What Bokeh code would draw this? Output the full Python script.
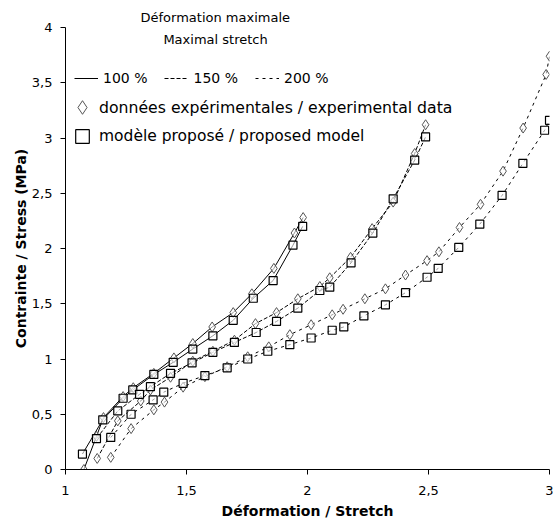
from bokeh.plotting import figure
from bokeh.models import Label, Legend, LegendItem, FixedTicker, CustomJSTickFormatter, Range1d, Title
from bokeh.embed import file_html
from bokeh.resources import INLINE

# ---- data ----
exp100_x = [1.076, 1.128, 1.157, 1.238, 1.28, 1.365, 1.448, 1.526, 1.606, 1.693, 1.77, 1.861, 1.946, 1.982]
exp100_y = [0.0, 0.30, 0.47, 0.66, 0.74, 0.87, 1.01, 1.14, 1.29, 1.42, 1.59, 1.82, 2.14, 2.28]
mod100_x = [1.07, 1.154, 1.238, 1.278, 1.365, 1.445, 1.526, 1.609, 1.693, 1.776, 1.858, 1.94, 1.98]
mod100_y = [0.14, 0.45, 0.645, 0.72, 0.86, 0.97, 1.09, 1.21, 1.35, 1.55, 1.71, 2.03, 2.20]

exp150_x = [1.131, 1.216, 1.311, 1.351, 1.434, 1.526, 1.609, 1.698, 1.785, 1.872, 1.96, 2.051, 2.092, 2.178, 2.267, 2.354, 2.443, 2.488]
exp150_y = [0.10, 0.44, 0.62, 0.72, 0.835, 0.98, 1.07, 1.17, 1.32, 1.42, 1.545, 1.656, 1.735, 1.92, 2.18, 2.42, 2.86, 3.12]
mod150_x = [1.128, 1.216, 1.306, 1.351, 1.434, 1.523, 1.609, 1.698, 1.788, 1.872, 1.96, 2.051, 2.092, 2.18, 2.27, 2.354, 2.443, 2.488]
mod150_y = [0.28, 0.53, 0.68, 0.75, 0.87, 0.965, 1.06, 1.15, 1.24, 1.34, 1.46, 1.62, 1.65, 1.87, 2.14, 2.45, 2.80, 3.01]

exp200_x = [1.187, 1.271, 1.365, 1.409, 1.486, 1.576, 1.668, 1.753, 1.84, 1.927, 2.015, 2.102, 2.147, 2.237, 2.322, 2.405, 2.494, 2.543, 2.628, 2.715, 2.808, 2.891, 2.986, 3.0]
exp200_y = [0.11, 0.37, 0.54, 0.61, 0.745, 0.84, 0.93, 1.02, 1.11, 1.22, 1.31, 1.40, 1.45, 1.545, 1.635, 1.76, 1.89, 1.97, 2.19, 2.40, 2.70, 3.09, 3.575, 3.74]
mod200_x = [1.187, 1.271, 1.362, 1.406, 1.486, 1.576, 1.668, 1.753, 1.836, 1.927, 2.015, 2.102, 2.15, 2.233, 2.322, 2.405, 2.494, 2.54, 2.625, 2.712, 2.804, 2.89, 2.98, 3.0]
mod200_y = [0.29, 0.50, 0.63, 0.70, 0.78, 0.85, 0.92, 1.00, 1.07, 1.13, 1.19, 1.26, 1.29, 1.39, 1.49, 1.60, 1.74, 1.82, 2.01, 2.22, 2.48, 2.77, 3.07, 3.16]

x_ticks = [1, 1.5, 2, 2.5, 3]
y_ticks = [0, 0.5, 1, 1.5, 2, 2.5, 3, 3.5, 4]

series_labels = ["100 %", "150 %", "200 %"]
legend_title = ["Déformation maximale", "Maximal stretch"]
marker_labels = ["données expérimentales / experimental data", "modèle proposé / proposed model"]

FONT = "DejaVu Sans"

p = figure(frame_width=484, frame_height=442, x_range=Range1d(1, 3), y_range=Range1d(0, 4),
           output_backend="svg", toolbar_location=None,
           min_border_left=65, min_border_right=4, min_border_top=27, min_border_bottom=50)
p.grid.visible = False
p.outline_line_color = None
p.background_fill_color = "white"
p.border_fill_color = "white"

fmt = CustomJSTickFormatter(code="return String(tick).replace('.', ',');")
for ax, ticks in ((p.xaxis[0], x_ticks), (p.yaxis[0], y_ticks)):
    ax.ticker = FixedTicker(ticks=ticks)
    ax.formatter = fmt
    ax.minor_tick_line_color = None
    ax.major_tick_in = 0
    ax.major_tick_out = 5
    ax.axis_line_color = "black"
    ax.major_tick_line_color = "black"
    ax.major_label_text_font = FONT
    ax.major_label_text_font_size = "13px"
    ax.major_label_text_color = "black"
    ax.axis_label_text_font = FONT
    ax.axis_label_text_font_size = "14px"
    ax.axis_label_text_font_style = "bold"
    ax.axis_label_text_color = "black"

p.xaxis.axis_label = "Déformation / Stretch"
p.yaxis.axis_label = "Contrainte / Stress (MPa)"
p.xaxis.major_label_standoff = 11
p.yaxis.major_label_standoff = 8
p.xaxis.axis_label_standoff = 5
p.yaxis.axis_label_standoff = 0

dashes = ["solid", "4 2", "3 4"]
groups = [(exp100_x, exp100_y, mod100_x, mod100_y),
          (exp150_x, exp150_y, mod150_x, mod150_y),
          (exp200_x, exp200_y, mod200_x, mod200_y)]

line_renderers = []
diamond_r = None
square_r = None
for (ex, ey, mx, my), dash in zip(groups, dashes):
    r1 = p.line(ex, ey, line_color="black", line_width=1, line_dash=dash)
    p.line(mx, my, line_color="black", line_width=1, line_dash=dash)
    line_renderers.append(r1)
for (ex, ey, mx, my) in groups:
    d = p.scatter(ex, ey, marker="diamond", size=10, fill_color="white", fill_alpha=0.6,
                  line_color="#555555", line_width=1)
    s = p.scatter(mx, my, marker="square", size=8, fill_color="white", fill_alpha=0.6,
                  line_color="black", line_width=1.2)
    if diamond_r is None:
        diamond_r, square_r = d, s

# legend heading: first line above the frame (title), second line inside
p.add_layout(Title(text=legend_title[0], align="left", offset=75, standoff=5,
                   text_font=FONT, text_font_size="13px", text_font_style="normal",
                   text_color="black"), "above")
p.add_layout(Label(x=1.62, y=3.89, text=legend_title[1], text_align="center", text_baseline="middle",
                   text_font=FONT, text_font_size="13px", text_color="black"))

common = dict(padding=0, margin=0, border_line_color=None, background_fill_alpha=0,
              label_text_color="black", label_text_font=FONT)
leg1 = Legend(items=[LegendItem(label=lab, renderers=[r]) for lab, r in zip(series_labels, line_renderers)],
              orientation="horizontal", location=(9, 381), spacing=17,
              glyph_width=24, glyph_height=20, label_standoff=5,
              label_text_font_size="14px", **common)
leg2 = Legend(items=[LegendItem(label=marker_labels[0], renderers=[diamond_r])],
              location=(0, 345), glyph_width=34, glyph_height=34, label_standoff=0,
              label_text_font_size="15.7px", **common)
leg3 = Legend(items=[LegendItem(label=marker_labels[1], renderers=[square_r])],
              location=(0, 316), glyph_width=34, glyph_height=34, label_standoff=0,
              label_text_font_size="15.5px", **common)
p.add_layout(leg1)
p.add_layout(leg2)
p.add_layout(leg3)

open("out.html", "w").write(file_html(p, INLINE))
